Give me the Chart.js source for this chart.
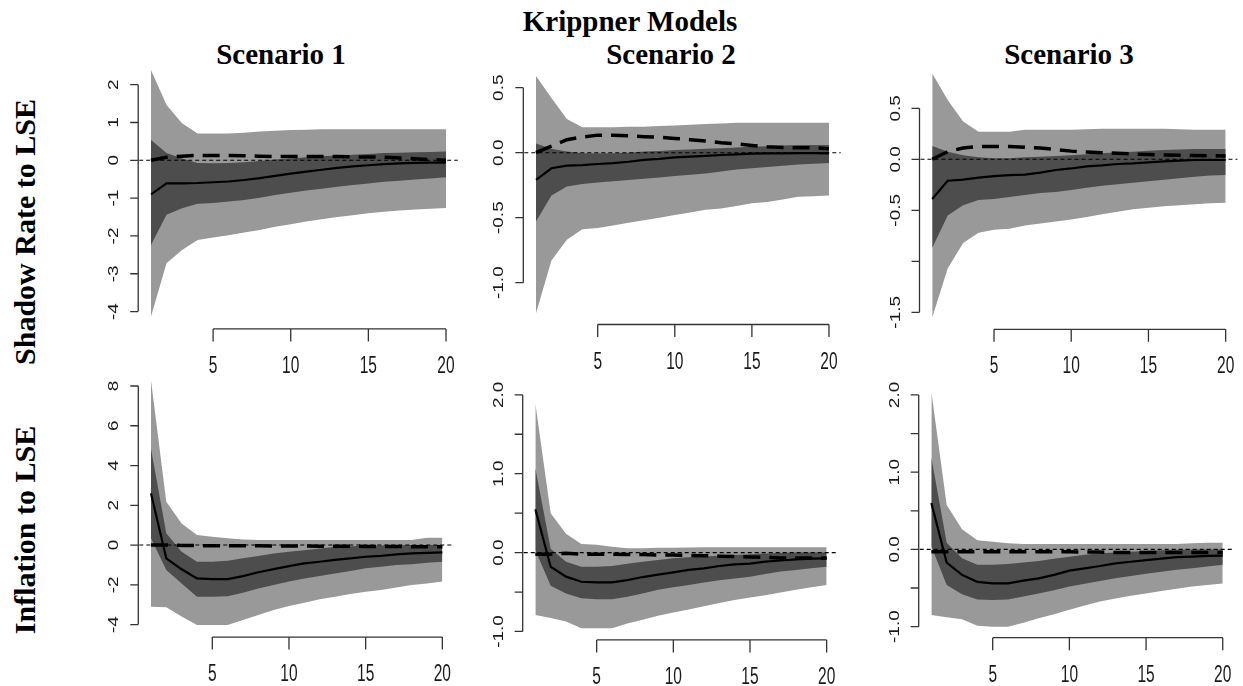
<!DOCTYPE html>
<html>
<head>
<meta charset="utf-8">
<script src="https://cdn.jsdelivr.net/npm/chart.js@4.4.1/dist/chart.umd.min.js"></script>
<style>
  html, body { margin: 0; padding: 0; background: #fff; }
  #page { position: relative; width: 1243px; height: 686px; overflow: hidden; background: #fff; }
  .ttl { position: absolute; width: 400px; text-align: center; font: bold 29px "Liberation Serif", "Times New Roman", serif; line-height: 29px; color: #000; white-space: nowrap; }
  .row { position: absolute; width: 400px; height: 30px; text-align: center; font: bold 30px "Liberation Serif", "Times New Roman", serif; line-height: 30px; color: #000; white-space: nowrap; transform: rotate(-90deg); }
  canvas { position: absolute; }
</style>
</head>
<body>
<div id="page">
  <div class="ttl" style="left:430px;top:7px">Krippner Models</div>
  <div class="ttl" style="left:81px;top:40px">Scenario 1</div>
  <div class="ttl" style="left:471px;top:40px">Scenario 2</div>
  <div class="ttl" style="left:869px;top:40px">Scenario 3</div>
  <div class="row" style="left:-175px;top:217px">Shadow Rate to LSE</div>
  <div class="row" style="left:-175px;top:515px">Inflation to LSE</div>
</div>
<script>
/* ---------- data ---------- */
const horizon = [1, 2, 3, 4, 5, 6, 7, 8, 9, 10, 11, 12, 13, 14, 15, 16, 17, 18, 19, 20];
const xTicks = [5, 10, 15, 20];

// Shadow rate to LSE, scenario 1
const rate1OuterHi = [2.39, 1.46, 0.98, 0.71, 0.71, 0.71, 0.73, 0.76, 0.78, 0.80, 0.81, 0.82, 0.82, 0.82, 0.82, 0.82, 0.82, 0.82, 0.82, 0.82];
const rate1InnerHi = [0.54, 0.19, 0.05, -0.07, -0.08, -0.07, -0.05, -0.02, 0.02, 0.05, 0.08, 0.11, 0.13, 0.15, 0.17, 0.19, 0.20, 0.21, 0.22, 0.23];
const rate1Median  = [-0.90, -0.61, -0.61, -0.60, -0.58, -0.56, -0.52, -0.47, -0.41, -0.35, -0.30, -0.25, -0.20, -0.16, -0.13, -0.10, -0.08, -0.07, -0.06, -0.06];
const rate1InnerLo = [-2.24, -1.44, -1.27, -1.15, -1.13, -1.09, -1.05, -0.99, -0.92, -0.86, -0.80, -0.75, -0.70, -0.65, -0.61, -0.57, -0.54, -0.51, -0.48, -0.45];
const rate1OuterLo = [-4.13, -2.72, -2.37, -2.11, -2.04, -1.98, -1.91, -1.84, -1.76, -1.69, -1.62, -1.56, -1.50, -1.45, -1.40, -1.36, -1.33, -1.30, -1.28, -1.26];
const rate1Dashed  = [0.00, 0.08, 0.11, 0.13, 0.13, 0.13, 0.12, 0.11, 0.10, 0.10, 0.10, 0.10, 0.10, 0.09, 0.09, 0.08, 0.06, 0.04, 0.02, 0.00];

// Shadow rate to LSE, scenario 2
const rate2OuterHi = [0.59, 0.42, 0.26, 0.195, 0.195, 0.195, 0.20, 0.20, 0.205, 0.21, 0.215, 0.22, 0.225, 0.23, 0.23, 0.23, 0.23, 0.23, 0.23, 0.23];
const rate2InnerHi = [0.07, 0.03, 0.01, -0.005, -0.005, -0.005, 0.00, 0.01, 0.013, 0.02, 0.025, 0.03, 0.035, 0.04, 0.045, 0.05, 0.055, 0.06, 0.06, 0.06];
const rate2Median  = [-0.21, -0.12, -0.10, -0.095, -0.087, -0.08, -0.07, -0.056, -0.048, -0.036, -0.03, -0.025, -0.018, -0.013, -0.008, -0.005, -0.005, -0.003, -0.003, -0.005];
const rate2InnerLo = [-0.53, -0.33, -0.26, -0.24, -0.23, -0.22, -0.21, -0.20, -0.19, -0.18, -0.17, -0.16, -0.145, -0.13, -0.12, -0.11, -0.10, -0.09, -0.085, -0.08];
const rate2OuterLo = [-1.235, -0.83, -0.67, -0.59, -0.58, -0.56, -0.54, -0.52, -0.50, -0.48, -0.46, -0.44, -0.43, -0.41, -0.39, -0.38, -0.36, -0.34, -0.335, -0.33];
const rate2Dashed  = [0.00, 0.05, 0.10, 0.12, 0.135, 0.135, 0.13, 0.123, 0.118, 0.11, 0.10, 0.09, 0.077, 0.067, 0.056, 0.046, 0.04, 0.038, 0.038, 0.03];

// Shadow rate to LSE, scenario 3
const rate3OuterHi = [0.84, 0.58, 0.37, 0.27, 0.27, 0.27, 0.29, 0.29, 0.29, 0.29, 0.295, 0.30, 0.30, 0.30, 0.30, 0.30, 0.295, 0.29, 0.29, 0.29];
const rate3InnerHi = [0.13, 0.075, 0.04, 0.02, 0.01, 0.01, 0.02, 0.026, 0.033, 0.04, 0.05, 0.06, 0.068, 0.075, 0.083, 0.09, 0.095, 0.10, 0.10, 0.10];
const rate3Median  = [-0.39, -0.21, -0.20, -0.18, -0.165, -0.155, -0.15, -0.13, -0.105, -0.09, -0.07, -0.06, -0.046, -0.04, -0.03, -0.02, -0.013, -0.007, -0.007, -0.007];
const rate3InnerLo = [-0.87, -0.55, -0.45, -0.40, -0.39, -0.37, -0.35, -0.33, -0.32, -0.30, -0.28, -0.26, -0.245, -0.23, -0.215, -0.20, -0.185, -0.17, -0.16, -0.155];
const rate3OuterLo = [-1.55, -1.07, -0.82, -0.72, -0.69, -0.68, -0.65, -0.63, -0.61, -0.59, -0.565, -0.54, -0.515, -0.49, -0.475, -0.46, -0.45, -0.44, -0.43, -0.425];
const rate3Dashed  = [0.00, 0.075, 0.11, 0.125, 0.125, 0.125, 0.118, 0.11, 0.095, 0.08, 0.072, 0.065, 0.058, 0.052, 0.047, 0.042, 0.04, 0.036, 0.034, 0.033];

// Inflation to LSE, scenario 1
const infl1OuterHi = [8.3, 2.18, 1.09, 0.50, 0.42, 0.34, 0.28, 0.26, 0.25, 0.25, 0.25, 0.25, 0.25, 0.25, 0.25, 0.25, 0.25, 0.25, 0.37, 0.37];
const infl1InnerHi = [4.86, 0.59, -0.34, -0.84, -0.84, -0.79, -0.67, -0.55, -0.42, -0.34, -0.26, -0.17, -0.10, -0.06, -0.03, -0.02, -0.01, 0.00, 0.00, 0.00];
const infl1Median  = [2.6, -0.67, -1.22, -1.68, -1.71, -1.71, -1.56, -1.37, -1.21, -1.06, -0.92, -0.84, -0.75, -0.67, -0.59, -0.54, -0.47, -0.42, -0.39, -0.37];
const infl1InnerLo = [0.34, -1.26, -1.93, -2.6, -2.6, -2.57, -2.4, -2.18, -2.01, -1.84, -1.68, -1.56, -1.43, -1.31, -1.17, -1.09, -1.0, -0.96, -0.89, -0.84];
const infl1OuterLo = [-3.1, -3.13, -3.6, -4.02, -4.02, -4.02, -3.77, -3.52, -3.27, -3.07, -2.9, -2.73, -2.6, -2.46, -2.35, -2.26, -2.13, -2.01, -1.93, -1.84];
const infl1Dashed  = [0.00, 0.00, -0.02, -0.03, -0.03, -0.03, -0.04, -0.04, -0.05, -0.05, -0.05, -0.06, -0.06, -0.06, -0.07, -0.07, -0.07, -0.08, -0.08, -0.08];

// Inflation to LSE, scenario 2
const infl2OuterHi = [1.89, 0.50, 0.24, 0.11, 0.10, 0.075, 0.054, 0.054, 0.06, 0.06, 0.065, 0.067, 0.067, 0.067, 0.067, 0.067, 0.067, 0.067, 0.067, 0.067];
const infl2InnerHi = [1.07, 0.05, -0.115, -0.18, -0.18, -0.17, -0.14, -0.115, -0.094, -0.073, -0.06, -0.05, -0.04, -0.03, -0.02, -0.01, -0.005, 0.00, 0.00, 0.00];
const infl2Median  = [0.55, -0.18, -0.305, -0.37, -0.377, -0.377, -0.35, -0.31, -0.28, -0.25, -0.22, -0.20, -0.17, -0.15, -0.14, -0.115, -0.10, -0.085, -0.077, -0.073];
const infl2InnerLo = [0.03, -0.42, -0.52, -0.58, -0.59, -0.59, -0.56, -0.52, -0.47, -0.44, -0.41, -0.38, -0.35, -0.33, -0.305, -0.27, -0.24, -0.22, -0.20, -0.18];
const infl2OuterLo = [-0.79, -0.83, -0.875, -0.96, -0.96, -0.96, -0.90, -0.85, -0.80, -0.76, -0.72, -0.68, -0.64, -0.60, -0.57, -0.54, -0.505, -0.47, -0.44, -0.41];
const infl2Dashed  = [-0.02, -0.02, -0.01, -0.02, -0.02, -0.02, -0.025, -0.025, -0.03, -0.03, -0.035, -0.04, -0.045, -0.05, -0.055, -0.06, -0.07, -0.07, -0.07, -0.07];

// Inflation to LSE, scenario 3
const infl3OuterHi = [2.04, 0.575, 0.26, 0.12, 0.10, 0.08, 0.07, 0.07, 0.07, 0.07, 0.07, 0.07, 0.07, 0.07, 0.07, 0.07, 0.07, 0.08, 0.087, 0.087];
const infl3InnerHi = [1.19, 0.087, -0.115, -0.20, -0.20, -0.19, -0.17, -0.15, -0.12, -0.094, -0.07, -0.05, -0.04, -0.03, -0.02, -0.01, -0.005, 0.00, 0.00, 0.00];
const infl3Median  = [0.60, -0.17, -0.33, -0.42, -0.44, -0.44, -0.405, -0.375, -0.33, -0.275, -0.245, -0.215, -0.18, -0.16, -0.14, -0.12, -0.10, -0.094, -0.085, -0.08];
const infl3InnerLo = [0.04, -0.46, -0.58, -0.65, -0.655, -0.65, -0.61, -0.57, -0.53, -0.48, -0.445, -0.41, -0.375, -0.345, -0.315, -0.29, -0.265, -0.245, -0.22, -0.20];
const infl3OuterLo = [-0.85, -0.88, -0.905, -0.99, -1.0, -1.0, -0.95, -0.89, -0.84, -0.78, -0.725, -0.675, -0.635, -0.60, -0.57, -0.54, -0.51, -0.48, -0.46, -0.44];
const infl3Dashed  = [-0.03, -0.03, -0.03, -0.03, -0.03, -0.03, -0.03, -0.03, -0.03, -0.03, -0.035, -0.035, -0.04, -0.04, -0.04, -0.04, -0.04, -0.04, -0.04, -0.04];

// y tick values and their labels (R drops labels that would overlap)
const rate1YTicks = [-4, -3, -2, -1, 0, 1, 2];
const rate1YLabels = ["-4", "-3", "-2", "-1", "0", "1", "2"];
const rate2YTicks = [-1, -0.5, 0, 0.5];
const rate2YLabels = ["-1.0", "-0.5", "0.0", "0.5"];
const rate3YTicks = [-1.5, -1, -0.5, 0, 0.5];
const rate3YLabels = ["-1.5", "", "-0.5", "0.0", "0.5"];
const infl1YTicks = [-4, -2, 0, 2, 4, 6, 8];
const infl1YLabels = ["-4", "-2", "0", "2", "4", "6", "8"];
const infl23YTicks = [-1, -0.5, 0, 0.5, 1, 1.5, 2];
const infl23YLabels = ["-1.0", "", "0.0", "", "1.0", "", "2.0"];

/* ---------- layout: plot regions in page pixels + value ranges ---------- */
const panels = [
  { box: [139.2, 59.7, 457.8, 327.1], yMin: -4.41, yMax: 2.66, ticks: rate1YTicks, labels: rate1YLabels,
    s: [rate1OuterLo, rate1OuterHi, rate1InnerLo, rate1InnerHi, rate1Median, rate1Dashed] },
  { box: [524.3, 66.5, 840.7, 322.7], yMin: -1.308, yMax: 0.663, ticks: rate2YTicks, labels: rate2YLabels,
    s: [rate2OuterLo, rate2OuterHi, rate2InnerLo, rate2InnerHi, rate2Median, rate2Dashed] },
  { box: [920.5, 63.5, 1237.4, 327.5], yMin: -1.649, yMax: 0.939, ticks: rate3YTicks, labels: rate3YLabels,
    s: [rate3OuterLo, rate3OuterHi, rate3InnerLo, rate3InnerHi, rate3Median, rate3Dashed] },
  { box: [139.3, 370.3, 454.0, 635.3], yMin: -4.54, yMax: 8.79, ticks: infl1YTicks, labels: infl1YLabels,
    s: [infl1OuterLo, infl1OuterHi, infl1InnerLo, infl1InnerHi, infl1Median, infl1Dashed] },
  { box: [523.7, 394.5, 838.3, 638.1], yMin: -1.084, yMax: 2.004, ticks: infl23YTicks, labels: infl23YLabels,
    s: [infl2OuterLo, infl2OuterHi, infl2InnerLo, infl2InnerHi, infl2Median, infl2Dashed] },
  { box: [919.7, 382.6, 1234.4, 635.9], yMin: -1.12, yMax: 2.16, ticks: infl23YTicks, labels: infl23YLabels,
    s: [infl3OuterLo, infl3OuterHi, infl3InnerLo, infl3InnerHi, infl3Median, infl3Dashed] }
];

const LIGHT = "#999999";
const DARK = "#4d4d4d";
const AXIS = "#333333";

/* ---------- R style axes + zero line ---------- */
const rAxes = {
  id: "rAxes",
  afterDatasetsDraw(chart) {
    const { ctx, chartArea: a, scales: { y } } = chart;
    const y0 = y.getPixelForValue(0);
    ctx.save();
    ctx.strokeStyle = "#000";
    ctx.lineWidth = 1.1;
    ctx.setLineDash([4, 3]);
    ctx.beginPath();
    ctx.moveTo(a.left, y0);
    ctx.lineTo(a.right, y0);
    ctx.stroke();
    ctx.restore();
  },
  afterDraw(chart, args, opts) {
    const { ctx, chartArea: a, scales: { x, y } } = chart;
    ctx.save();
    ctx.strokeStyle = AXIS;
    ctx.fillStyle = "#1a1a1a";
    ctx.lineWidth = 1.3;

    // y axis
    const ax = a.left - 1;
    const yt = opts.ticks;
    ctx.beginPath();
    ctx.moveTo(ax, y.getPixelForValue(yt[0]));
    ctx.lineTo(ax, y.getPixelForValue(yt[yt.length - 1]));
    yt.forEach(v => {
      const py = y.getPixelForValue(v);
      ctx.moveTo(ax, py);
      ctx.lineTo(ax - 8, py);
    });
    ctx.stroke();
    ctx.font = '19px "Liberation Sans", Arial, sans-serif';
    ctx.textAlign = "center";
    ctx.textBaseline = "alphabetic";
    yt.forEach((v, i) => {
      if (!opts.labels[i]) return;
      ctx.save();
      ctx.translate(ax - 20, y.getPixelForValue(v));
      ctx.rotate(-Math.PI / 2);
      ctx.scale(1, 0.75);
      ctx.fillText(opts.labels[i], 0, 0);
      ctx.restore();
    });

    // x axis
    const ly = a.bottom + 1.8;
    ctx.beginPath();
    ctx.moveTo(x.getPixelForValue(xTicks[0]), ly);
    ctx.lineTo(x.getPixelForValue(xTicks[xTicks.length - 1]), ly);
    xTicks.forEach(v => {
      const px = x.getPixelForValue(v);
      ctx.moveTo(px, ly);
      ctx.lineTo(px, ly + 12.5);
    });
    ctx.stroke();
    ctx.font = '23.5px "Liberation Sans", Arial, sans-serif';
    xTicks.forEach(v => {
      ctx.save();
      ctx.translate(x.getPixelForValue(v), ly + 44);
      ctx.scale(0.66, 1);
      ctx.fillText(String(v), 0, 0);
      ctx.restore();
    });
    ctx.restore();
  }
};

function pts(arr) {
  return horizon.map((h, i) => ({ x: h, y: arr[i] }));
}

const page = document.getElementById("page");

panels.forEach(p => {
  const [l, t, r, b] = p.box;
  const cl = Math.floor(l - 45), ct = Math.floor(t - 25);
  const cr = Math.ceil(r + 6), cb = Math.ceil(b + 52);
  const cv = document.createElement("canvas");
  cv.width = cr - cl;
  cv.height = cb - ct;
  cv.style.left = cl + "px";
  cv.style.top = ct + "px";
  cv.style.width = (cr - cl) + "px";
  cv.style.height = (cb - ct) + "px";
  page.appendChild(cv);

  const [oLo, oHi, iLo, iHi, med, dash] = p.s;
  new Chart(cv.getContext("2d"), {
    type: "line",
    data: {
      datasets: [
        { data: pts(oLo), order: 6, borderWidth: 0, pointRadius: 0, fill: false },
        { data: pts(oHi), order: 5, borderWidth: 0, pointRadius: 0, fill: 0, backgroundColor: LIGHT },
        { data: pts(iLo), order: 4, borderWidth: 0, pointRadius: 0, fill: false },
        { data: pts(iHi), order: 3, borderWidth: 0, pointRadius: 0, fill: 2, backgroundColor: DARK },
        { data: pts(med), order: 2, borderWidth: 2.2, borderColor: "#000", pointRadius: 0, fill: false },
        { data: pts(dash), order: 1, borderWidth: 3.5, borderColor: "#000", borderDash: [17, 9], pointRadius: 0, fill: false }
      ]
    },
    options: {
      responsive: false,
      animation: false,
      events: [],
      devicePixelRatio: 1,
      layout: { padding: { left: l - cl, top: t - ct, right: cr - r, bottom: cb - b } },
      elements: { line: { tension: 0 } },
      scales: {
        x: { type: "linear", min: 0.24, max: 20.76, display: false },
        y: { type: "linear", min: p.yMin, max: p.yMax, display: false }
      },
      plugins: {
        legend: { display: false },
        tooltip: { enabled: false },
        rAxes: { ticks: p.ticks, labels: p.labels }
      }
    },
    plugins: [rAxes]
  });
});
</script>
</body>
</html>
